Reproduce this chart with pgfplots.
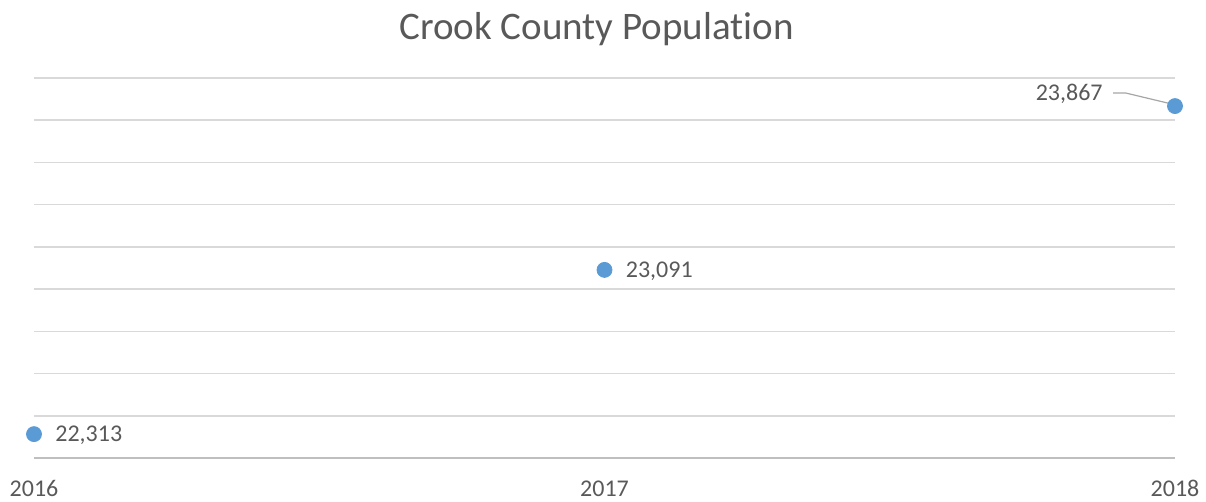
\documentclass[border=0pt]{standalone}
\usepackage{fontspec}
\setmainfont{Carlito}[Ligatures=NoCommon]
\usepackage{pgfplots}
\pgfplotsset{compat=1.18}
\definecolor{txt}{HTML}{595959}
\definecolor{gridc}{HTML}{D9D9D9}
\definecolor{axisc}{HTML}{BFBFBF}
\definecolor{dot}{HTML}{5B9BD5}
\definecolor{leader}{HTML}{A6A6A6}
\begin{document}
\begin{tikzpicture}
  \begin{axis}[
      scale only axis,
      width=570.5pt, height=190pt,
      xmin=2016, xmax=2018,
      ymin=22200, ymax=24000,
      xtick={2016,2017,2018},
      xticklabels={2016,2017,2018},
      ytick={22200,22400,...,24000},
      yticklabels={},
      scaled y ticks=false,
      major tick length=0pt,
      axis x line*=bottom,
      axis y line*=left,
      x axis line style={draw=axisc, line width=0.9pt, -},
      y axis line style={draw=none},
      ymajorgrids=true,
      grid style={draw=gridc, line width=0.8pt},
      xticklabel style={font=\fontsize{12}{14}\selectfont, text=txt, anchor=base, yshift=-19.5pt},
      title={Crook County Population},
      title style={font=\fontsize{19.5}{23}\selectfont, text=txt, at={(0.5,1)}, anchor=base, yshift=13pt, xshift=-4pt},
      clip=false,
      /pgf/number format/assume math mode=true,
      /pgf/number format/1000 sep={,},
      nodes near coords,
      every node near coord/.append style={font=\fontsize{12}{14}\selectfont, text=txt, inner sep=0pt},
    ]
    \addplot[only marks, mark=*, mark size=3.75pt, mark options={draw=dot, fill=dot},
      every node near coord/.append style={anchor=west, xshift=10.5pt, yshift=-0.5pt}]
      coordinates {(2016,22313) (2017,23091)};
    \addplot[only marks, mark=*, mark size=3.75pt, mark options={draw=dot, fill=dot},
      every node near coord/.append style={anchor=east, xshift=-36pt, yshift=6.25pt}]
      coordinates {(2018,23867)};
    \draw[leader, line width=0.6pt] (axis cs:2018,23867) ++(-31pt,6.5pt) -- ++(6.5pt,0pt) -- ++(23pt,-5.5pt);
  \end{axis}
  \pgfresetboundingbox
  \path (current axis.south west) ++(-17pt,-22pt) rectangle ([xshift=15.5pt, yshift=39pt]current axis.north east);
\end{tikzpicture}
\end{document}
